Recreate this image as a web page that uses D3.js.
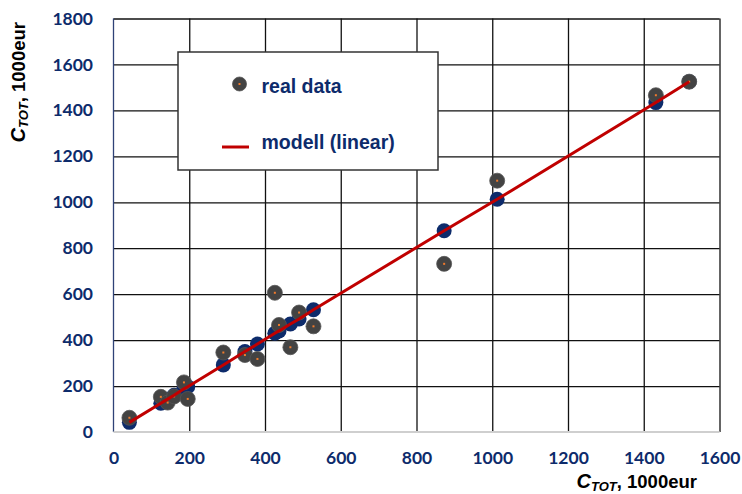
<!DOCTYPE html>
<html>
<head>
<meta charset="utf-8">
<script src="https://cdn.jsdelivr.net/npm/d3@7"></script>
<style>
  html, body { margin: 0; padding: 0; background: #fff; }
  svg { display: block; }
</style>
</head>
<body>
<svg id="chart" width="742" height="494"></svg>
<script>
// ---- data ----
const xValues     = [42, 125, 143, 160, 186, 196, 290, 347, 380, 426, 437, 467, 490, 528, 873, 1013, 1432, 1520];
const realValues  = [62, 153, 128, 155, 216, 144, 346, 335, 318, 606, 466, 369, 520, 460, 732, 1094, 1466, 1525];
const modelValues = [42, 125, 143, 160, 188, 197, 292, 350, 383, 430, 440, 470, 492, 532, 876, 1013, 1434, 1525];
const xTicks = [0, 200, 400, 600, 800, 1000, 1200, 1400, 1600];
const yTicks = [0, 200, 400, 600, 800, 1000, 1200, 1400, 1600, 1800];
const legendLabels = ["real data", "modell (linear)"];

(function () {
const svg = d3.select("#chart");
const pLeft = 113.5, pRight = 719.5, pTop = 18.5, pBottom = 432;
const x = d3.scaleLinear().domain([0, 1600]).range([pLeft, pRight]);
const y = d3.scaleLinear().domain([0, 1800]).range([pBottom, pTop]);

const navy = "#0d2b6b";
const tickFont = "Lato, 'Open Sans', sans-serif";

// gridlines + labels via axes
const gx = svg.append("g").attr("transform", `translate(0,${pBottom})`)
  .call(d3.axisBottom(x).tickValues(xTicks).tickSize(-(pBottom - pTop)).tickPadding(19.5).tickFormat(d3.format("d")));
gx.select(".domain").remove();
gx.selectAll(".tick line").attr("stroke", "#111").attr("stroke-width", 1.3)
  .filter(d => d === 0).remove();
gx.selectAll(".tick text").attr("fill", navy).attr("font-family", tickFont)
  .attr("font-weight", 700).attr("font-size", "17.5px");

const gy = svg.append("g").attr("transform", `translate(${pLeft},0)`)
  .call(d3.axisLeft(y).tickValues(yTicks).tickSize(-(pRight - pLeft)).tickPadding(20.5).tickFormat(d3.format("d")));
gy.select(".domain").remove();
gy.selectAll(".tick line").attr("stroke", "#111").attr("stroke-width", 1.3)
  .filter(d => d === 0).remove();
gy.selectAll(".tick text").attr("fill", navy).attr("font-family", tickFont)
  .attr("font-weight", 700).attr("font-size", "17.5px");

// axis lines
svg.append("line").attr("x1", pLeft).attr("x2", pLeft).attr("y1", pTop).attr("y2", pBottom)
  .attr("stroke", "#2f4277").attr("stroke-width", 1.3);
svg.append("line").attr("x1", pLeft).attr("x2", pRight).attr("y1", pBottom).attr("y2", pBottom)
  .attr("stroke", "#cfcfcf").attr("stroke-width", 2.2);

const pts = xValues.map((v, i) => ({ x: v, real: realValues[i], model: modelValues[i] }));

// model markers (navy)
svg.append("g").selectAll("circle").data(pts).join("circle")
  .attr("cx", d => x(d.x)).attr("cy", d => y(d.model)).attr("r", 7.5)
  .attr("fill", navy);

// real data markers
const gReal = svg.append("g");
gReal.selectAll("circle").data(pts).join("circle")
  .attr("cx", d => x(d.x)).attr("cy", d => y(d.real)).attr("r", 7.5)
  .attr("fill", "#434343").attr("stroke", "#555").attr("stroke-width", 0.8);
gReal.selectAll("rect").data(pts).join("rect")
  .attr("x", d => x(d.x) - 1).attr("y", d => y(d.real) - 1).attr("width", 2).attr("height", 2)
  .attr("fill", "#f07a2c");

// model line
const sorted = pts.slice().sort((a, b) => a.x - b.x);
svg.append("path").datum(sorted)
  .attr("d", d3.line().x(d => x(d.x)).y(d => y(d.model)))
  .attr("fill", "none").attr("stroke", "#c00000").attr("stroke-width", 3);

// legend
const lg = svg.append("g");
lg.append("rect").attr("x", 178).attr("y", 52).attr("width", 260).attr("height", 118)
  .attr("fill", "#fff").attr("stroke", "#333").attr("stroke-width", 1.5);
lg.append("circle").attr("cx", 239.5).attr("cy", 84).attr("r", 7)
  .attr("fill", "#434343").attr("stroke", "#555").attr("stroke-width", 0.8);
lg.append("rect").attr("x", 238.5).attr("y", 83).attr("width", 2).attr("height", 2).attr("fill", "#f07a2c");
lg.append("line").attr("x1", 222).attr("x2", 249).attr("y1", 147).attr("y2", 147)
  .attr("stroke", "#c00000").attr("stroke-width", 3);
lg.append("text").attr("x", 261.5).attr("y", 92.5).text(legendLabels[0])
  .attr("fill", navy).attr("font-family", "'Liberation Sans', Arial, sans-serif")
  .attr("font-weight", 700).attr("font-size", "19.5px");
lg.append("text").attr("x", 261.5).attr("y", 149).text(legendLabels[1])
  .attr("fill", navy).attr("font-family", "'Liberation Sans', Arial, sans-serif")
  .attr("font-weight", 700).attr("font-size", "19.5px");

// axis titles
function axisTitle(t) {
  t.attr("font-family", "'Liberation Sans', Arial, sans-serif").attr("font-weight", 700)
   .attr("fill", "#000").attr("font-size", "18.5px");
  t.append("tspan").attr("font-style", "italic").attr("font-size", "20px").text("C");
  t.append("tspan").attr("font-style", "italic").attr("font-size", "13px").attr("dy", 3).text("TOT");
  t.append("tspan").attr("dy", -3).text(", 1000eur");
}
svg.append("text").attr("x", 697).attr("y", 487.5).attr("text-anchor", "end").call(axisTitle);
svg.append("text").attr("transform", "translate(25,22) rotate(-90)").attr("text-anchor", "end").call(axisTitle);
})();
</script>
</body>
</html>
